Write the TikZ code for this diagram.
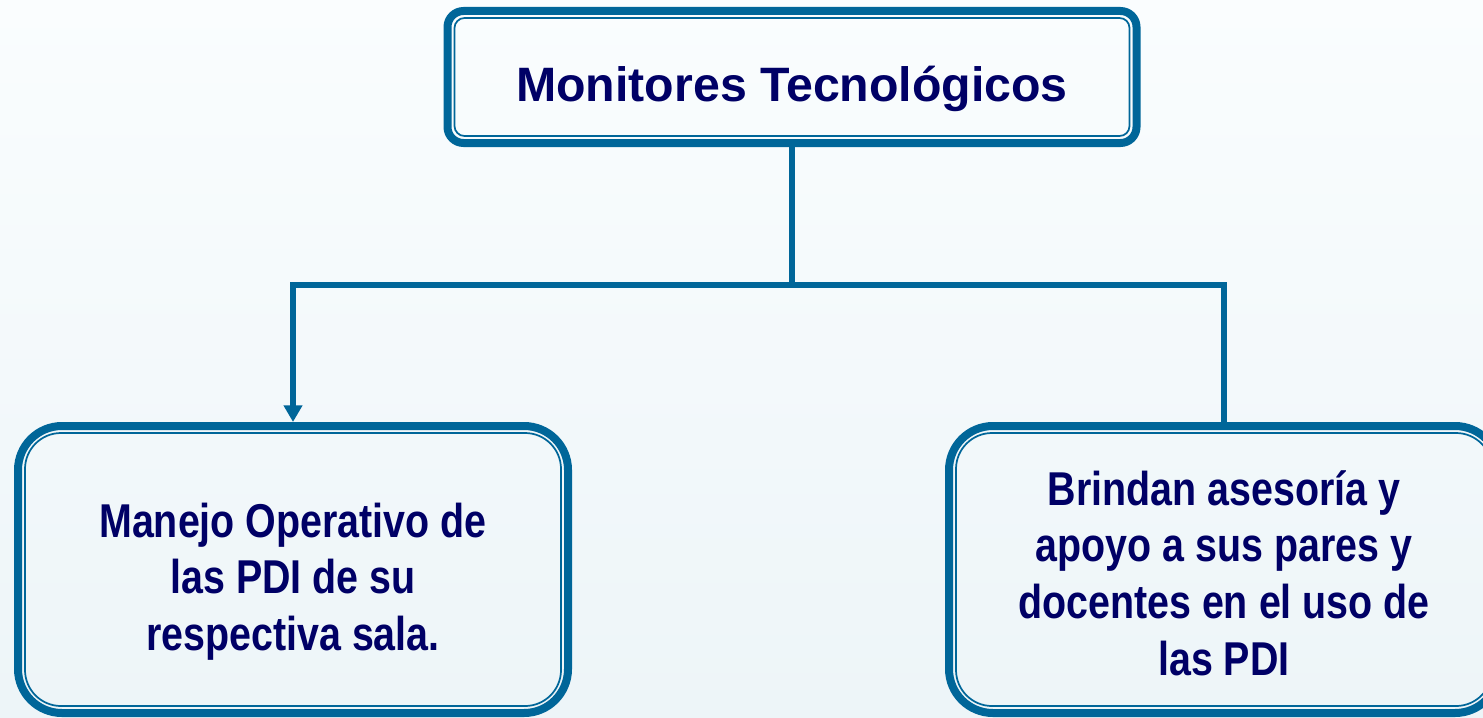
\documentclass[tikz,border=0pt]{standalone}
\usepackage{fontspec}
\setmainfont{Liberation Sans}
\newfontfamily\narrowfont{Liberation Sans}[FakeStretch=0.83]
\usetikzlibrary{arrows.meta}
\definecolor{frameblue}{HTML}{006699}
\definecolor{textnavy}{HTML}{000066}
\definecolor{bgtop}{HTML}{FAFDFE}
\definecolor{bgbottom}{HTML}{EDF5F8}
\begin{document}
\begin{tikzpicture}[x=0.75pt,y=-0.75pt,
  box/.style={draw=frameblue,line width=6pt,inner sep=0pt,align=flush center,text=textnavy},
  title/.style={font=\fontsize{36.2pt}{42.5pt}\selectfont\bfseries},
  body/.style={font=\fontsize{35.6pt}{42.5pt}\selectfont\narrowfont\bfseries},
  innerframe/.style={draw=frameblue,line width=1.3pt},
  link/.style={draw=frameblue,line width=4.25pt}]
\clip (0,0) rectangle (1483,717);
\shade[top color=bgtop,bottom color=bgbottom] (0,0) rectangle (1483,717);
\node[box,title,rounded corners=12pt,minimum width=516.75pt,minimum height=99pt,text width=516.75pt,text height=37pt,text depth=0pt] (monitores) at (792,77) {Monitores Tecnológicos};
\node[box,body,rounded corners=33pt,minimum width=412.5pt,minimum height=215.25pt,text width=412.5pt,text height=25.5pt,text depth=74.25pt] (manejo) at (293,569.5) {Manejo Operativo de\\ las PDI de su\\ respectiva sala.};
\node[box,body,rounded corners=33pt,minimum width=412.5pt,minimum height=215.25pt,text width=412.5pt,text height=25.5pt,text depth=122.25pt] (asesoria) at (1224,569.5) {Brindan asesoría y\\ apoyo a sus pares y\\ docentes en el uso de\\ las PDI};
\foreach \n/\r in {monitores/7.5pt,manejo/27pt,asesoria/27pt}
  \draw[innerframe,rounded corners=\r] ([shift={(11,11)}]\n.north west) rectangle ([shift={(-11,-11)}]\n.south east);
\coordinate (fork) at (792,285);
\draw[link,-{Triangle[width=13.5pt,length=12.5pt]}] (monitores.south) -- (fork) -| (manejo.north);
\draw[link] (fork) -| (asesoria.north);
\end{tikzpicture}
\end{document}
